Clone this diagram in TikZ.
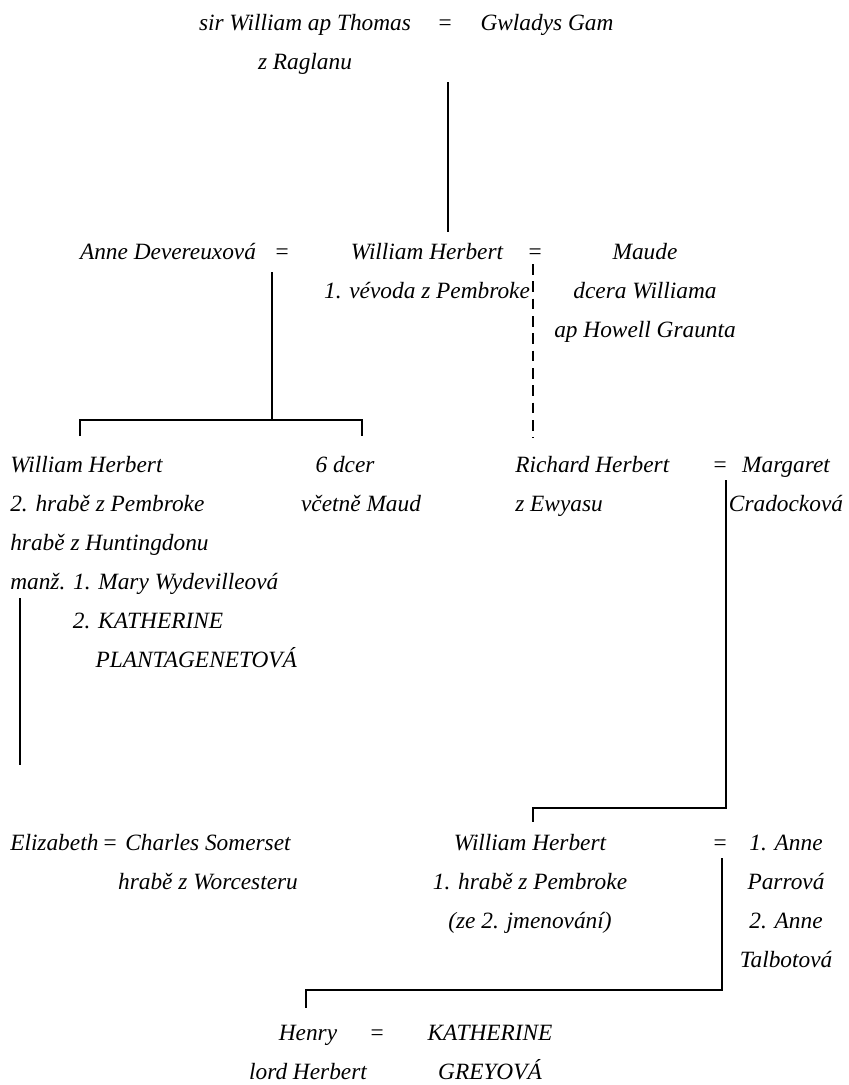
\documentclass[tikz,border=0pt]{standalone}
\usepackage{fontspec}
\setmainfont{Liberation Serif}
\newcommand\gfs{\fontsize{17.5}{29.25}\selectfont\itshape}
\begin{document}
\begin{tikzpicture}[x=0.75pt,y=-0.75pt,
  t/.style={inner sep=0pt, anchor=base, font=\gfs, align=center},
  tl/.style={inner sep=0pt, anchor=base west, font=\gfs, align=left},
  ln/.style={line width=1.9pt},
  dl/.style={line width=1.9pt, dash pattern=on 8pt off 5pt}]
\useasboundingbox (0,0) rectangle (849,1085);
% row 1 (base anchor = last line)
\node[t] (sirw) at (305,69) {sir William ap Thomas\\z Raglanu};
\node[t] (eqa) at (445,30) {=};
\node[t] (gwl) at (547,30) {Gwladys Gam};
% row 2
\node[t] (anne) at (168,259) {Anne Devereuxová};
\node[t] (eqb) at (282,259) {=};
\node[t] (wh1) at (427,298) {William Herbert\\1. vévoda z Pembroke};
\node[t] (eqc) at (535,259) {=};
\node[t] (maude) at (645,337) {Maude\\dcera Williama\\ap Howell Graunta};
% row 3
\node[tl] (wh2) at (10,667) {William Herbert\\2. hrabě z Pembroke\\hrabě z Huntingdonu\\manž. 1. Mary Wydevilleová\\\hspace*{47pt}2. KATHERINE\\\hspace*{64pt}PLANTAGENETOVÁ};
\node[t] (dcer) at (345,472) {6 dcer};
\node[t] (dcerb) at (361,511) {včetně Maud};
\node[tl] (rich) at (515,511) {Richard Herbert\\z Ewyasu};
\node[t] (eqd) at (720,472) {=};
\node[t] (marg) at (786,511) {Margaret\\Cradocková};
% row 4
\node[tl] (eliz) at (10,850) {Elizabeth};
\node[t] (eqe) at (110,850) {=};
\node[t] (charles) at (208,889) {Charles Somerset\\hrabě z Worcesteru};
\node[t] (wh3) at (530,928) {William Herbert\\1. hrabě z Pembroke\\(ze 2. jmenování)};
\node[t] (eqf) at (720,850) {=};
\node[t] (anne2) at (786,967) {1. Anne\\Parrová\\2. Anne\\Talbotová};
% row 5
\node[t] (henry) at (308,1079) {Henry\\lord Herbert};
\node[t] (eqg) at (377,1040) {=};
\node[t] (kath) at (490,1079) {KATHERINE\\GREYOVÁ};
% connector points
\coordinate (a1) at (448,82);
\coordinate (a2) at (448,232);
\coordinate (b1) at (272,272);
\coordinate (b2) at (272,420);
\coordinate (bl) at (80,420);
\coordinate (bl2) at (80,436);
\coordinate (br) at (362,420);
\coordinate (br2) at (362,436);
\coordinate (d1) at (533,264);
\coordinate (d2) at (533,438);
\coordinate (e1) at (20,598);
\coordinate (e2) at (20,765);
\coordinate (f1) at (726,480);
\coordinate (f2) at (726,808);
\coordinate (f3) at (533,808);
\coordinate (f4) at (533,822);
\coordinate (g1) at (722,858);
\coordinate (g2) at (722,990);
\coordinate (g3) at (306,990);
\coordinate (g4) at (306,1008);
\draw[ln] (a1) -- (a2);
\draw[ln] (b1) -- (b2);
\draw[ln] (bl2) -- (bl) -- (br) -- (br2);
\draw[dl] (d1) -- (d2);
\draw[ln] (e1) -- (e2);
\draw[ln] (f1) -- (f2) -- (f3) -- (f4);
\draw[ln] (g1) -- (g2) -- (g3) -- (g4);
\end{tikzpicture}
\end{document}
